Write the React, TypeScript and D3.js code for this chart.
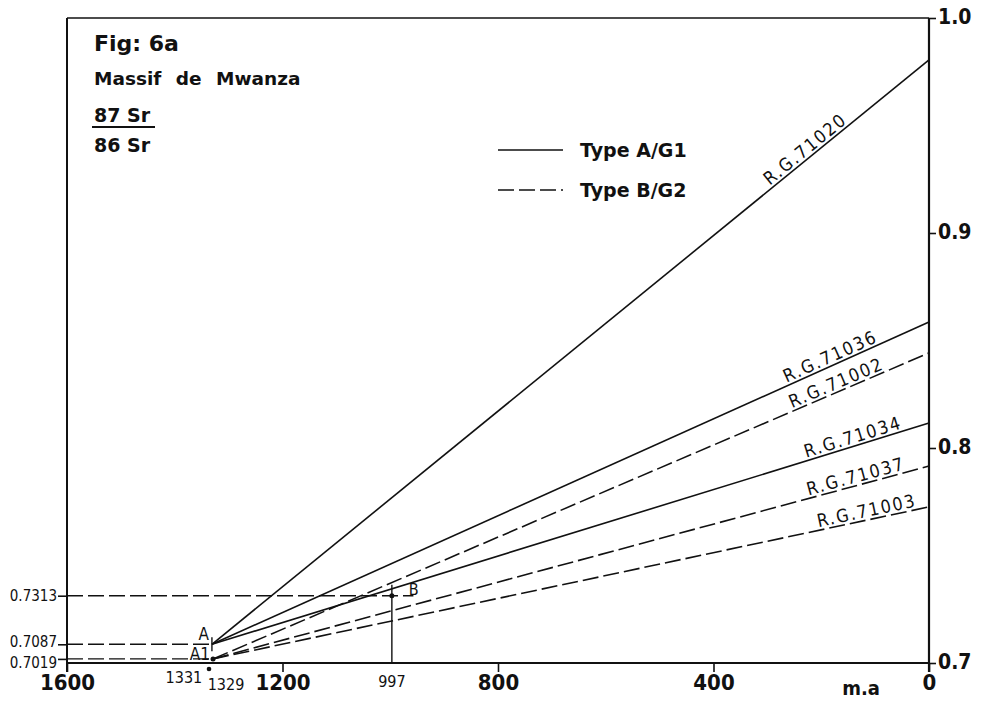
import {useEffect, useRef} from "react";
import * as d3 from "d3";

// isochron lines: name, type (A = solid from point A, B = dashed from point A1), 87Sr/86Sr at 0 m.a
const samples = ["R.G.71020", "R.G.71036", "R.G.71002", "R.G.71034", "R.G.71037", "R.G.71003"];
const types = ["A", "A", "B", "A", "B", "B"];
const endRatios = [0.9805, 0.8586, 0.8442, 0.8116, 0.7916, 0.7726];
const labelAges = [292, 262, 252, 226, 222, 204];

// starting points
const originA = {name: "A", age: 1331, ratio: 0.7087};
const originA1 = {name: "A1", age: 1329, ratio: 0.7019};
const pointB = {name: "B", age: 997, ratio: 0.7313};

const rightTicks = [0.7, 0.8, 0.9, 1.0];
const leftTicks = [0.7313, 0.7087, 0.7019];
const bottomTicks = [1600, 1200, 800, 400, 0];

const numFont = "'Liberation Sans Narrow', 'DejaVu Sans Condensed', 'DejaVu Sans', sans-serif";
const textFont = "'DejaVu Sans', sans-serif";
const dash = "16,5";

export default function App() {
    const ref = useRef<SVGSVGElement>(null);

    useEffect(() => {
        const svg = d3.select(ref.current);
        svg.selectAll("*").remove();

        const width = 983;
        const height = 702;
        const margin = {top: 18, right: 54, bottom: 39, left: 67};

        const x = d3.scaleLinear().domain([1600, 0]).range([margin.left, width - margin.right]);
        const y = d3.scaleLinear().domain([0.7, 1.0]).range([height - margin.bottom, margin.top]);

        svg.attr("width", width).attr("height", height);
        svg.append("rect").attr("width", width).attr("height", height).attr("fill", "white");

        // frame
        svg.append("line")
            .attr("x1", x(1600)).attr("x2", x(0))
            .attr("y1", y(1.0)).attr("y2", y(1.0))
            .attr("stroke", "#111").attr("stroke-width", 1.6);

        const right = svg.append("g")
            .attr("transform", `translate(${x(0)},0)`)
            .call(d3.axisRight(y).tickValues(rightTicks).tickSize(7).tickFormat(d3.format(".1f")));
        right.select(".domain").remove();
        right.selectAll("line").attr("stroke", "#111").attr("stroke-width", 1.6);
        right.selectAll("text")
            .attr("font-family", numFont).attr("font-size", 21).attr("font-weight", "bold")
            .attr("fill", "#111").attr("x", 9).attr("dy", "0.25em");
        right.append("line").attr("x1", 0).attr("x2", 0)
            .attr("y1", y(1.0)).attr("y2", y(0.7) + 9)
            .attr("stroke", "#111").attr("stroke-width", 2.2);

        const left = svg.append("g")
            .attr("transform", `translate(${x(1600)},0)`)
            .call(d3.axisLeft(y).tickValues(leftTicks).tickSize(9).tickFormat(d3.format(".4f")));
        left.select(".domain").remove();
        left.selectAll("line").attr("stroke", "#111").attr("stroke-width", 1.6);
        left.selectAll("text")
            .attr("font-family", numFont).attr("font-size", 15)
            .attr("fill", "#111").attr("x", -10)
            .attr("dy", d => d === 0.7087 ? "0.12em" : d === 0.7019 ? "0.55em" : "0.32em");
        left.append("line").attr("x1", 0).attr("x2", 0)
            .attr("y1", y(1.0)).attr("y2", y(0.7) + 9)
            .attr("stroke", "#111").attr("stroke-width", 2);

        const bottom = svg.append("g")
            .attr("transform", `translate(0,${y(0.7)})`)
            .call(d3.axisBottom(x).tickValues(bottomTicks).tickSize(9).tickFormat(d3.format("d")));
        bottom.select(".domain").remove();
        bottom.selectAll("line").attr("stroke", "#111").attr("stroke-width", 1.6);
        bottom.selectAll("text")
            .attr("font-family", numFont).attr("font-size", 22).attr("font-weight", "bold")
            .attr("fill", "#111").attr("y", 11);
        bottom.append("line").attr("x1", x(1600)).attr("x2", x(0))
            .attr("y1", 0).attr("y2", 0)
            .attr("stroke", "#111").attr("stroke-width", 2.2);

        // horizontal reference lines
        const refs = [
            {ratio: originA.ratio, to: originA.age},
            {ratio: originA1.ratio, to: originA1.age},
            {ratio: pointB.ratio, to: pointB.age - 40},
        ];
        svg.selectAll(".ref").data(refs).enter().append("line")
            .attr("x1", x(1600)).attr("x2", d => x(d.to))
            .attr("y1", d => y(d.ratio)).attr("y2", d => y(d.ratio))
            .attr("stroke", "#111").attr("stroke-width", 1.4).attr("stroke-dasharray", dash);

        // vertical line at B
        svg.append("line")
            .attr("x1", x(pointB.age)).attr("x2", x(pointB.age))
            .attr("y1", y(pointB.ratio) - 11).attr("y2", y(0.7))
            .attr("stroke", "#111").attr("stroke-width", 1.4);
        svg.append("circle").attr("cx", x(pointB.age)).attr("cy", y(pointB.ratio))
            .attr("r", 2.5).attr("fill", "#111");
        svg.append("text").attr("x", x(pointB.age) + 17).attr("y", y(pointB.ratio) - 1)
            .attr("font-family", numFont).attr("font-size", 16).attr("fill", "#111").text("B");

        // isochron lines
        const lines = samples.map((name, i) => {
            const o = types[i] === "A" ? originA : originA1;
            return {name, type: types[i], x0: o.age, y0: o.ratio, x1: 0, y1: endRatios[i], labelAge: labelAges[i]};
        });
        svg.selectAll(".iso").data(lines).enter().append("line")
            .attr("x1", d => x(d.x0)).attr("y1", d => y(d.y0))
            .attr("x2", d => x(d.x1)).attr("y2", d => y(d.y1))
            .attr("stroke", "#111").attr("stroke-width", 1.6)
            .attr("stroke-dasharray", d => d.type === "A" ? null : dash);

        svg.selectAll(".isoLabel").data(lines).enter().append("text")
            .attr("transform", d => {
                const t = (d.labelAge - d.x0) / (d.x1 - d.x0);
                const ratio = d.y0 + t * (d.y1 - d.y0);
                const ang = Math.atan2(y(d.y1) - y(d.y0), x(d.x1) - x(d.x0)) * 180 / Math.PI;
                return `translate(${x(d.labelAge)},${y(ratio)}) rotate(${ang})`;
            })
            .attr("dy", -3)
            .attr("font-family", numFont).attr("font-size", 18).attr("letter-spacing", 1.8)
            .attr("fill", "#111")
            .text(d => d.name);

        // starting points A and A1
        svg.append("line")
            .attr("x1", x(originA.age)).attr("x2", x(originA.age))
            .attr("y1", y(originA.ratio) - 7).attr("y2", y(originA.ratio) + 7)
            .attr("stroke", "#111").attr("stroke-width", 1.4);
        svg.append("circle").attr("cx", x(originA1.age)).attr("cy", y(originA1.ratio))
            .attr("r", 2.5).attr("fill", "#111");
        svg.append("text").attr("x", x(originA.age) - 3).attr("y", y(originA.ratio) - 4)
            .attr("text-anchor", "end").attr("font-family", numFont).attr("font-size", 17)
            .attr("fill", "#111").text("A");
        svg.append("text").attr("x", x(originA1.age) - 3).attr("y", y(originA1.ratio) + 1)
            .attr("text-anchor", "end").attr("font-family", numFont).attr("font-size", 17)
            .attr("fill", "#111").text("A1");
        svg.append("circle").attr("cx", x(originA1.age) - 4).attr("cy", y(0.7) + 6)
            .attr("r", 2.3).attr("fill", "#111");
        svg.append("text").attr("x", x(originA.age) - 28).attr("y", y(0.7) + 20)
            .attr("text-anchor", "middle").attr("font-family", numFont).attr("font-size", 16)
            .attr("fill", "#111").text(String(originA.age));
        svg.append("text").attr("x", x(originA1.age) + 13).attr("y", y(0.7) + 27)
            .attr("text-anchor", "middle").attr("font-family", numFont).attr("font-size", 16)
            .attr("fill", "#111").text(String(originA1.age));
        svg.append("text").attr("x", x(pointB.age)).attr("y", y(0.7) + 24)
            .attr("text-anchor", "middle").attr("font-family", numFont).attr("font-size", 16)
            .attr("fill", "#111").text(String(pointB.age));
        svg.append("text").attr("x", x(0) - 68).attr("y", y(0.7) + 32)
            .attr("text-anchor", "middle").attr("font-family", numFont).attr("font-size", 20)
            .attr("font-weight", "bold").attr("fill", "#111").text("m.a");

        // title block
        const title = svg.append("g").attr("font-family", textFont).attr("font-weight", "bold").attr("fill", "#111");
        title.append("text").attr("x", 94).attr("y", 51).attr("font-size", 22).text("Fig: 6a");
        title.append("text").attr("x", 94).attr("y", 85).attr("font-size", 18.5)
            .attr("word-spacing", 8).text("Massif de Mwanza");
        title.append("text").attr("x", 94).attr("y", 122).attr("font-size", 19).text("87 Sr");
        title.append("line").attr("x1", 92).attr("x2", 155).attr("y1", 127).attr("y2", 127)
            .attr("stroke", "#111").attr("stroke-width", 1.8);
        title.append("text").attr("x", 94).attr("y", 152).attr("font-size", 19).text("86 Sr");

        // legend
        const legendItems = [{label: "Type A/G1", dashed: false}, {label: "Type B/G2", dashed: true}];
        const legend = svg.append("g").attr("transform", "translate(498,150)");
        const li = legend.selectAll("g").data(legendItems).enter().append("g")
            .attr("transform", (d, i) => `translate(0,${i * 40})`);
        li.append("line").attr("x1", 0).attr("x2", 65).attr("y1", 0).attr("y2", 0)
            .attr("stroke", "#111").attr("stroke-width", 1.6)
            .attr("stroke-dasharray", d => d.dashed ? "16,5" : null);
        li.append("text").attr("x", 82).attr("y", 7)
            .attr("font-family", textFont).attr("font-size", 19).attr("font-weight", "bold")
            .attr("fill", "#111").text(d => d.label);
    }, []);

    return <svg ref={ref} style={{position: "absolute", left: 0, top: 0}}></svg>;
}
